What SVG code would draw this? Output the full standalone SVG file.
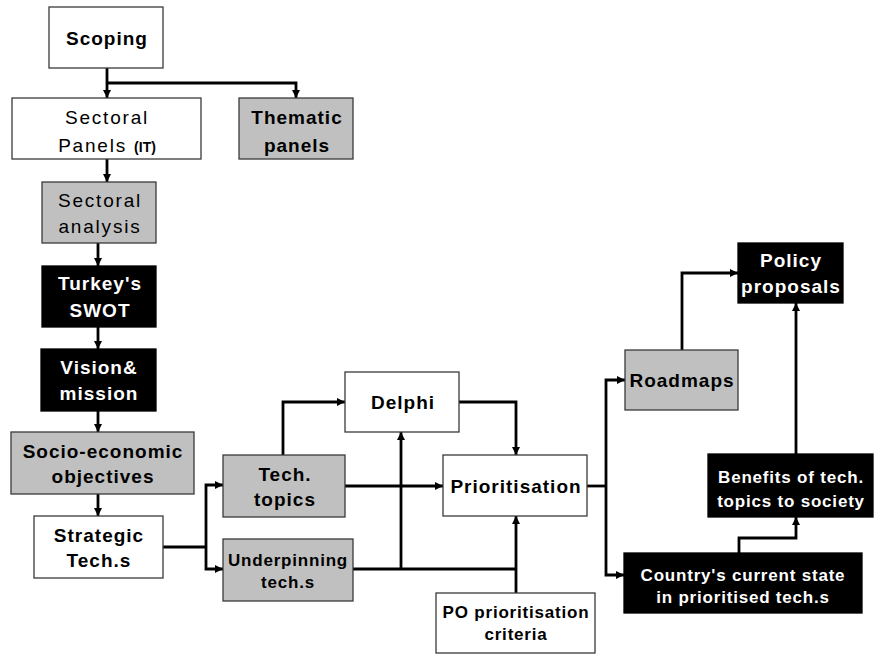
<svg xmlns="http://www.w3.org/2000/svg" width="874" height="655" viewBox="0 0 874 655">
<defs>
<style>
.box{stroke:#3a3a3a;stroke-width:1.3}
.w{fill:#fff}
.g{fill:#c0c0c0}
.b{fill:#000;stroke:#000}
text{font-family:"Liberation Sans",Arial,sans-serif;font-size:19px;font-weight:bold;letter-spacing:1px;text-anchor:middle;fill:#000}
.reg{font-weight:normal;letter-spacing:1.8px}
.sm{font-size:17px;letter-spacing:0.8px}
.wt{fill:#fff}
.c{fill:none;stroke:#000;stroke-width:2.8}
</style>
<marker id="ah" markerUnits="userSpaceOnUse" markerWidth="9" markerHeight="9" refX="8" refY="4" orient="auto">
<path d="M0,0 L8,4 L0,8 z" fill="#000"/>
</marker>
</defs>
<rect width="874" height="655" fill="#fff"/>

<g id="connectors">
<path class="c" d="M107,68 V98" marker-end="url(#ah)"/>
<path class="c" d="M107,83 H296 V98" marker-end="url(#ah)"/>
<path class="c" d="M107,159 V182" marker-end="url(#ah)"/>
<path class="c" d="M98,243 V266" marker-end="url(#ah)"/>
<path class="c" d="M98,327 V349" marker-end="url(#ah)"/>
<path class="c" d="M98,411 V432" marker-end="url(#ah)"/>
<path class="c" d="M98,494 V516" marker-end="url(#ah)"/>
<path class="c" d="M163,547 H206"/>
<path class="c" d="M206,547 V485 H223" marker-end="url(#ah)"/>
<path class="c" d="M206,547 V569 H223" marker-end="url(#ah)"/>
<path class="c" d="M283,455 V402 H345" marker-end="url(#ah)"/>
<path class="c" d="M345,486 H443" marker-end="url(#ah)"/>
<path class="c" d="M353,569 H516"/>
<path class="c" d="M401,569 V432" marker-end="url(#ah)"/>
<path class="c" d="M516,593 V516" marker-end="url(#ah)"/>
<path class="c" d="M459,402 H516 V455" marker-end="url(#ah)"/>
<path class="c" d="M587,486 H606"/>
<path class="c" d="M606,486 V380 H625" marker-end="url(#ah)"/>
<path class="c" d="M606,486 V575 H624" marker-end="url(#ah)"/>
<path class="c" d="M682,350 V273 H738" marker-end="url(#ah)"/>
<path class="c" d="M796,454 V303" marker-end="url(#ah)"/>
<path class="c" d="M739,553 V538 H796 V517" marker-end="url(#ah)"/>
</g>

<g id="scoping">
<rect class="box w" x="49" y="7" width="114" height="61"/>
<text x="107" y="45">Scoping</text>
</g>
<g id="sectoral-panels">
<rect class="box w" x="12" y="98" width="189" height="61"/>
<text class="reg" x="107" y="124">Sectoral</text>
<text class="reg" x="107" y="152">Panels <tspan style="font-size:14px;font-weight:bold;letter-spacing:0">(IT)</tspan></text>
</g>
<g id="thematic-panels">
<rect class="box g" x="239" y="98" width="114" height="61"/>
<text x="297" y="124">Thematic</text>
<text x="297" y="152">panels</text>
</g>
<g id="sectoral-analysis">
<rect class="box g" x="42" y="182" width="114" height="61"/>
<text class="reg" x="100" y="207">Sectoral</text>
<text class="reg" x="100" y="233">analysis</text>
</g>
<g id="swot">
<rect class="box b" x="42" y="266" width="114" height="61"/>
<text class="wt" x="100" y="290">Turkey's</text>
<text class="wt" x="100" y="317">SWOT</text>
</g>
<g id="vision">
<rect class="box b" x="41" y="349" width="115" height="62"/>
<text class="wt" x="99" y="374">Vision&amp;</text>
<text class="wt" x="99" y="400">mission</text>
</g>
<g id="socio">
<rect class="box g" x="11" y="432" width="183" height="62"/>
<text x="103" y="458">Socio-economic</text>
<text x="103" y="483">objectives</text>
</g>
<g id="strategic">
<rect class="box w" x="34" y="516" width="129" height="62"/>
<text x="99" y="542">Strategic</text>
<text x="99" y="567">Tech.s</text>
</g>
<g id="tech-topics">
<rect class="box g" x="223" y="455" width="122" height="62"/>
<text x="285" y="481">Tech.</text>
<text x="285" y="506">topics</text>
</g>
<g id="underpinning">
<rect class="box g" x="223" y="539" width="130" height="62"/>
<text class="sm" x="288" y="566">Underpinning</text>
<text class="sm" x="288" y="588">tech.s</text>
</g>
<g id="delphi">
<rect class="box w" x="345" y="372" width="114" height="60"/>
<text x="403" y="409">Delphi</text>
</g>
<g id="prioritisation">
<rect class="box w" x="443" y="455" width="144" height="61"/>
<text x="516" y="493">Prioritisation</text>
</g>
<g id="po-criteria">
<rect class="box w" x="436" y="593" width="159" height="60"/>
<text class="sm" x="516" y="618">PO prioritisation</text>
<text class="sm" x="516" y="640">criteria</text>
</g>
<g id="roadmaps">
<rect class="box g" x="625" y="350" width="113" height="60"/>
<text x="682" y="387">Roadmaps</text>
</g>
<g id="policy">
<rect class="box b" x="738" y="243" width="105" height="60"/>
<text class="wt" x="791" y="267">Policy</text>
<text class="wt" x="791" y="293">proposals</text>
</g>
<g id="benefits">
<rect class="box b" x="708" y="454" width="165" height="63"/>
<text class="sm wt" x="791" y="483">Benefits of tech.</text>
<text class="sm wt" x="791" y="507">topics to society</text>
</g>
<g id="country">
<rect class="box b" x="624" y="553" width="238" height="60"/>
<text class="sm wt" x="743" y="581">Country's current state</text>
<text class="sm wt" x="743" y="603">in prioritised tech.s</text>
</g>
</svg>
